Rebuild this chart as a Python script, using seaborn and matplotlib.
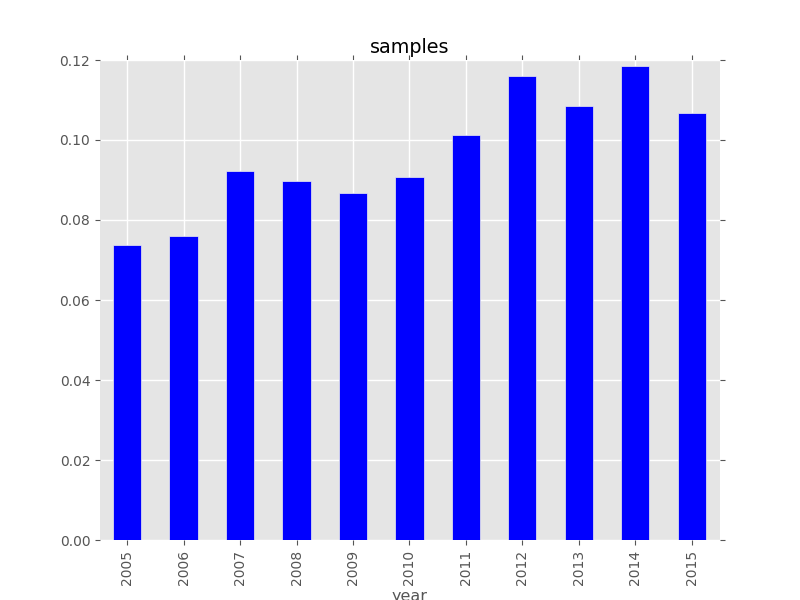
import matplotlib
matplotlib.use("Agg")
import matplotlib.pyplot as plt
import seaborn as sns
import pandas as pd

# values
years = ["2005", "2006", "2007", "2008", "2009", "2010",
         "2011", "2012", "2013", "2014", "2015"]
samples = [0.0738, 0.0760, 0.0922, 0.0898, 0.0868, 0.0908,
           0.1012, 0.1160, 0.1085, 0.1185, 0.1068]
y_ticks = [0.00, 0.02, 0.04, 0.06, 0.08, 0.10, 0.12]

df = pd.DataFrame({"year": years, "samples": samples})

sns.set_theme(style="whitegrid")
plt.rcParams["font.family"] = ["DejaVu Sans"]

fig = plt.figure(figsize=(8, 6), dpi=100)
ax = fig.add_axes([0.125, 0.1, 0.775, 0.8])

sns.barplot(data=df, x="year", y="samples", color="blue", saturation=1,
            width=0.5, edgecolor="#EEEEEE", linewidth=0.5, ax=ax)

ax.set_facecolor("#E5E5E5")
ax.set_axisbelow(True)
ax.grid(True, color="white", linewidth=1)
for s in ax.spines.values():
    s.set_visible(False)

ax.set_xlim(-0.48, 10.5)
ax.set_ylim(0, 0.12)
ax.set_yticks(y_ticks)
ax.set_yticklabels([f"{v:.2f}" for v in y_ticks])

ax.tick_params(axis="both", which="major", direction="out", length=3.5,
               width=0.8, color="#555555", labelcolor="#555555",
               labelsize=10, top=True, right=True, bottom=True, left=True)
ax.tick_params(axis="x", labelrotation=90)

ax.set_title("samples", fontsize=13.8, color="black", pad=5)
ax.set_xlabel("year", fontsize=11.5, color="#555555", labelpad=3)
ax.set_ylabel("")

fig.savefig("out.png", dpi=100)
